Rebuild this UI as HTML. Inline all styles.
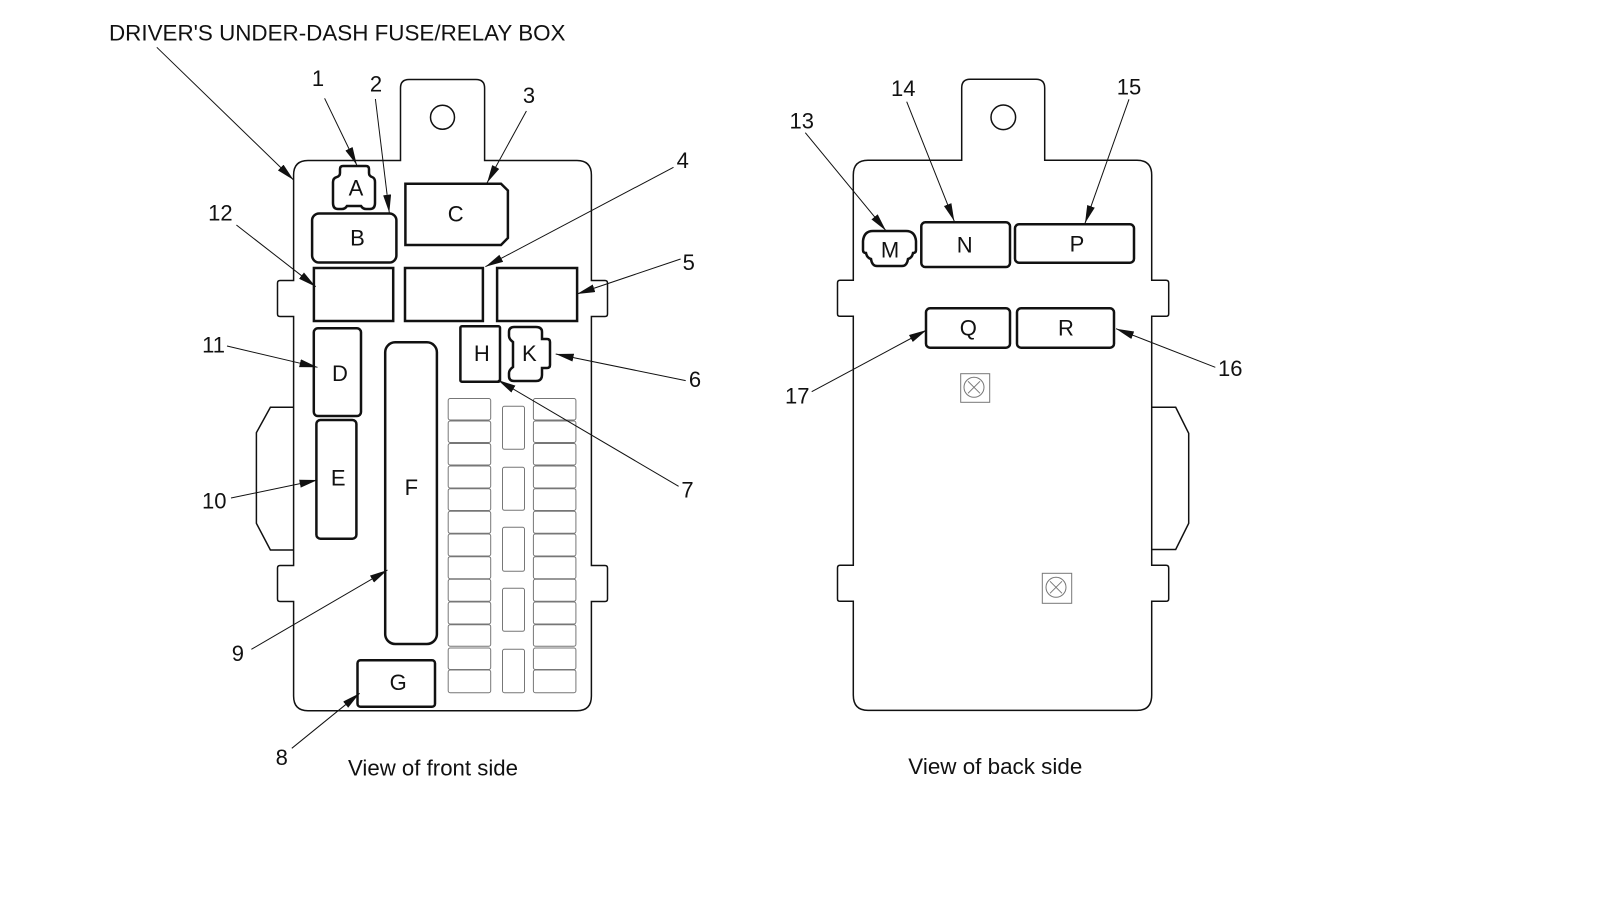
<!DOCTYPE html>
<html>
<head>
<meta charset="utf-8">
<style>
html,body{margin:0;padding:0;background:#fff;width:1600px;height:919px;overflow:hidden}
svg{display:block}
text{font-family:"Liberation Sans",Arial,sans-serif;font-size:22px;fill:#111}
.m{text-anchor:middle}
.b{fill:none;stroke:#111;stroke-width:1.5}
.c{fill:#fff;stroke:#111;stroke-width:2.5}
.f{fill:#fff;stroke:#777;stroke-width:1}
.a{fill:none;stroke:#111;stroke-width:1;marker-end:url(#ah)}
.s{fill:none;stroke:#777;stroke-width:1}
</style>
</head>
<body>
<svg width="1600" height="919" viewBox="0 0 1600 919" xmlns="http://www.w3.org/2000/svg">
<defs>
<marker id="ah" markerUnits="userSpaceOnUse" markerWidth="20" markerHeight="10" refX="18" refY="4" orient="auto">
<path d="M0 0L18 4L0 8Z" fill="#111"/>
</marker>
<g id="fl">
<rect class="f" x="0" y="398.5" width="42.5" height="21.5" rx="2"/>
<rect class="f" x="0" y="421" width="42.5" height="21.5" rx="2"/>
<rect class="f" x="0" y="443.5" width="42.5" height="21.5" rx="2"/>
<rect class="f" x="0" y="466" width="42.5" height="22" rx="2"/>
<rect class="f" x="0" y="488.7" width="42.5" height="21.8" rx="2"/>
<rect class="f" x="0" y="511.3" width="42.5" height="22" rx="2"/>
<rect class="f" x="0" y="534" width="42.5" height="22" rx="2"/>
<rect class="f" x="0" y="556.7" width="42.5" height="22" rx="2"/>
<rect class="f" x="0" y="579.3" width="42.5" height="22" rx="2"/>
<rect class="f" x="0" y="602" width="42.5" height="22" rx="2"/>
<rect class="f" x="0" y="624.7" width="42.5" height="21.5" rx="2"/>
<rect class="f" x="0" y="648" width="42.5" height="21.5" rx="2"/>
<rect class="f" x="0" y="670" width="42.5" height="22.7" rx="2"/>
</g>
</defs>

<text x="109" y="40.7" textLength="456.5" lengthAdjust="spacingAndGlyphs">DRIVER'S UNDER-DASH FUSE/RELAY BOX</text>

<!-- Front body -->
<path class="b" d="M293.6 175 Q293.6 160.5 308 160.5 H400.5 V88 Q400.5 79.5 409 79.5 H476 Q484.6 79.5 484.6 88 V160.5 H577 Q591.4 160.5 591.4 175 V280.5 H605 Q607.5 280.5 607.5 283 V314 Q607.5 316.5 605 316.5 H591.4 V565.5 H605 Q607.5 565.5 607.5 568 V599 Q607.5 601.5 605 601.5 H591.4 V696 Q591.4 710.7 577 710.7 H308 Q293.6 710.7 293.6 696 V601.5 H280 Q277.5 601.5 277.5 599 V568 Q277.5 565.5 280 565.5 H293.6 V316.5 H280 Q277.5 316.5 277.5 314 V283 Q277.5 280.5 280 280.5 H293.6 Z"/>
<path class="b" d="M293.6 407.3 H270.4 L256.4 432.7 V523.3 L270.4 550 H293.6"/>
<circle class="b" cx="442.5" cy="117.3" r="12"/>

<!-- Front fuses -->
<use href="#fl" x="448.2"/>
<use href="#fl" x="533.4"/>
<rect class="f" x="502.5" y="406.3" width="22" height="43" rx="2"/>
<rect class="f" x="502.5" y="467.3" width="22" height="43" rx="2"/>
<rect class="f" x="502.5" y="527.3" width="22" height="44" rx="2"/>
<rect class="f" x="502.5" y="588.3" width="22" height="43" rx="2"/>
<rect class="f" x="502.5" y="649.3" width="22" height="43.4" rx="2"/>

<!-- Front components -->
<path class="c" d="M343 166H366Q369 166 369 169V173Q369 176 372 177Q375 178 375 182V203Q375 209 370 209H366Q363 209 361 206H347Q345 209 342 209H338Q333 209 333 203V182Q333 178 337 177Q340 176 340 173V169Q340 166 343 166Z"/>
<rect class="c" x="312.1" y="213.5" width="84.3" height="49" rx="7"/>
<path class="c" d="M405.4 183.7H501L507.9 190.5V238L501 245H405.4Z"/>
<rect class="c" x="313.9" y="268" width="79.3" height="53"/>
<rect class="c" x="405" y="268" width="77.9" height="53"/>
<rect class="c" x="497.1" y="268" width="80" height="53"/>
<rect class="c" x="313.8" y="328.3" width="47.2" height="87.7" rx="4"/>
<rect class="c" x="316.4" y="420" width="40" height="118.7" rx="4"/>
<rect class="c" x="385.2" y="342.3" width="51.7" height="301.7" rx="10"/>
<rect class="c" x="357.5" y="660.3" width="77.5" height="46.4" rx="3"/>
<rect class="c" x="460.4" y="326.3" width="39.6" height="55.4" rx="1.5"/>
<path class="c" d="M514 327H536Q542 327 542 332V339H547Q550 339 550 342V365Q550 368 547 368H542V375Q542 381 536 381H514Q509 381 509 376V373Q509 370 513 367V342Q509 339 509 336V332Q509 327 514 327Z"/>

<text class="m" x="356" y="195.7">A</text>
<text class="m" x="357.5" y="245.7">B</text>
<text class="m" x="455.7" y="221.7">C</text>
<text class="m" x="340" y="381">D</text>
<text class="m" x="338.2" y="485.3">E</text>
<text class="m" x="411.4" y="495">F</text>
<text class="m" x="398.2" y="690">G</text>
<text class="m" x="481.8" y="361">H</text>
<text class="m" x="529.3" y="361">K</text>

<!-- Back body -->
<path class="b" d="M853.3 175 Q853.3 160.3 868 160.3 H961.7 V88 Q961.7 79.3 970 79.3 H1036 Q1044.7 79.3 1044.7 88 V160.3 H1137 Q1151.7 160.3 1151.7 175 V280.3 H1166 Q1168.7 280.3 1168.7 283 V314 Q1168.7 316.3 1166 316.3 H1151.7 V565.3 H1166 Q1168.7 565.3 1168.7 568 V599 Q1168.7 601.3 1166 601.3 H1151.7 V695 Q1151.7 710.4 1137 710.4 H868 Q853.3 710.4 853.3 695 V601.3 H840 Q837.5 601.3 837.5 599 V568 Q837.5 565.3 840 565.3 H853.3 V316.3 H840 Q837.5 316.3 837.5 314 V283 Q837.5 280.3 840 280.3 H853.3 Z"/>
<path class="b" d="M1151.7 407.3 H1175.7 L1188.7 433.3 V523.3 L1175.7 549.5 H1151.7"/>
<circle class="b" cx="1003.3" cy="117.3" r="12.3"/>

<path class="c" d="M873 231H906Q915 231 916 241V250Q916 253 913 253Q912 258 908 259Q907 266 902 266H877Q872 266 871 259Q867 258 866 253Q863 253 863 250V241Q864 231 873 231Z"/>
<rect class="c" x="921.3" y="222.3" width="88.7" height="44.7" rx="4"/>
<rect class="c" x="1015" y="224.3" width="119" height="38.4" rx="4"/>
<rect class="c" x="926" y="308.3" width="84" height="39.4" rx="4"/>
<rect class="c" x="1017" y="308.3" width="97" height="39.4" rx="4"/>

<text class="m" x="890" y="257.3">M</text>
<text class="m" x="964.7" y="252.7">N</text>
<text class="m" x="1077" y="251.3">P</text>
<text class="m" x="968.3" y="335.3">Q</text>
<text class="m" x="1066" y="335.3">R</text>

<!-- Screws -->
<rect class="s" x="960.7" y="373.7" width="29" height="28.6"/>
<circle class="s" cx="974" cy="387.3" r="10"/>
<path class="s" d="M968 381.3L980 393.3M980 381.3L968 393.3" stroke-width=".7"/>
<rect class="s" x="1042.3" y="573.3" width="29.4" height="30"/>
<circle class="s" cx="1056" cy="587.3" r="10"/>
<path class="s" d="M1050 581.3L1062 593.3M1062 581.3L1050 593.3" stroke-width=".7"/>

<!-- Leaders -->
<line class="a" x1="156.8" y1="47.3" x2="293.6" y2="180"/>
<line class="a" x1="324.6" y1="98.3" x2="356.8" y2="165"/>
<line class="a" x1="375.4" y1="99" x2="389.3" y2="212.7"/>
<line class="a" x1="526.4" y1="111" x2="487.1" y2="182.7"/>
<line class="a" x1="673.5" y1="167.3" x2="485.4" y2="266.7"/>
<line class="a" x1="680.6" y1="259" x2="577" y2="294"/>
<line class="a" x1="685.7" y1="380.6" x2="555.7" y2="354"/>
<line class="a" x1="678.6" y1="486.3" x2="497.9" y2="380"/>
<line class="a" x1="291.8" y1="748.3" x2="359.6" y2="693.3"/>
<line class="a" x1="251.4" y1="649.3" x2="387.5" y2="570"/>
<line class="a" x1="231" y1="498" x2="317.5" y2="480"/>
<line class="a" x1="227" y1="346" x2="317.5" y2="367.3"/>
<line class="a" x1="236.4" y1="225" x2="315.7" y2="286.7"/>
<line class="a" x1="805.3" y1="132.7" x2="886" y2="230.7"/>
<line class="a" x1="906.7" y1="101.7" x2="954.3" y2="221.3"/>
<line class="a" x1="1129" y1="99.3" x2="1085" y2="223.3"/>
<line class="a" x1="1215.3" y1="367.3" x2="1116" y2="328.7"/>
<line class="a" x1="811.7" y1="391.7" x2="926.7" y2="330"/>

<!-- Numbers -->
<text class="m" x="318" y="86">1</text>
<text class="m" x="376" y="91.3">2</text>
<text class="m" x="529" y="103">3</text>
<text class="m" x="682.7" y="168">4</text>
<text class="m" x="688.8" y="270">5</text>
<text class="m" x="695" y="387">6</text>
<text class="m" x="687.5" y="497.7">7</text>
<text class="m" x="281.8" y="765">8</text>
<text class="m" x="237.9" y="661">9</text>
<text class="m" x="214.3" y="508.3">10</text>
<text class="m" x="213.6" y="352.3">11</text>
<text class="m" x="220.4" y="220.3">12</text>
<text class="m" x="801.7" y="128.3">13</text>
<text class="m" x="903.3" y="96">14</text>
<text class="m" x="1129" y="94.3">15</text>
<text class="m" x="1230.3" y="376">16</text>
<text class="m" x="797.3" y="403.3">17</text>

<text x="348" y="775.7" textLength="170" lengthAdjust="spacingAndGlyphs">View of front side</text>
<text x="908.3" y="774" textLength="174" lengthAdjust="spacingAndGlyphs">View of back side</text>
</svg>
</body>
</html>
